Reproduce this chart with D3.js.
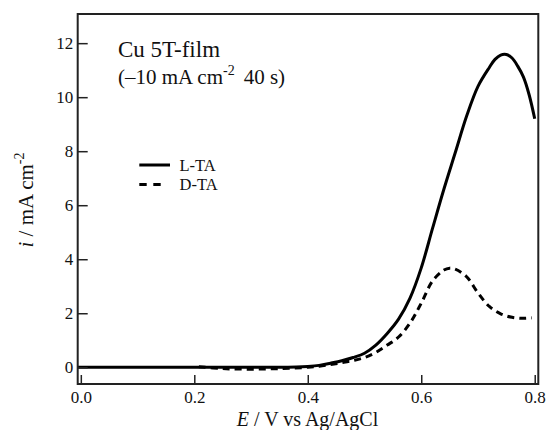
<!DOCTYPE html>
<html>
<head>
<meta charset="utf-8">
<script src="https://cdn.jsdelivr.net/npm/d3@7"></script>
<style>
  body { margin: 0; background: #fff; }
</style>
</head>
<body>
<svg id="chart" width="546" height="430"></svg>
<script>
// potential (V vs Ag/AgCl) and current density (mA cm-2)
const ltaE = [-0.005, 0.1, 0.2, 0.3, 0.38, 0.40, 0.42, 0.44, 0.46, 0.48, 0.50, 0.52, 0.54, 0.56, 0.58, 0.60, 0.62, 0.64, 0.66, 0.68, 0.70, 0.72, 0.73, 0.74, 0.75, 0.76, 0.77, 0.78, 0.79, 0.80]
const ltaI = [0, 0, 0, 0, 0.01, 0.03, 0.07, 0.15, 0.24, 0.36, 0.52, 0.82, 1.25, 1.78, 2.55, 3.68, 5.15, 6.6, 7.95, 9.3, 10.4, 11.1, 11.4, 11.56, 11.58, 11.45, 11.15, 10.75, 10.1, 9.2]

const dtaE = [0.208, 0.25, 0.30, 0.35, 0.40, 0.42, 0.44, 0.46, 0.48, 0.50, 0.52, 0.54, 0.56, 0.58, 0.60, 0.62, 0.64, 0.65, 0.66, 0.68, 0.70, 0.72, 0.74, 0.76, 0.78, 0.795]
const dtaI = [0.02, -0.05, -0.07, -0.05, 0.0, 0.04, 0.10, 0.17, 0.25, 0.36, 0.55, 0.82, 1.12, 1.63, 2.37, 3.2, 3.6, 3.67, 3.63, 3.35, 2.75, 2.25, 1.98, 1.85, 1.81, 1.83]

const xTicks = [0, 0.2, 0.4, 0.6, 0.8]
const yTicks = [0, 2, 4, 6, 8, 10, 12]
const seriesNames = ['L-TA', 'D-TA']

const FONT = '"Liberation Serif", "Times New Roman", Times, serif'

const svg = d3.select('#chart')

// plot frame edges in pixels
const frameL = 77.7, frameR = 538.3, frameT = 14, frameB = 384

const x = d3.scaleLinear().domain([-0.0055, 0.8063]).range([frameL, frameR])
const y = d3.scaleLinear().domain([-0.62, 13.08]).range([frameB, frameT])

const series = [
  { name: seriesNames[0], data: ltaE.map((e, i) => [e, ltaI[i]]), dash: null },
  { name: seriesNames[1], data: dtaE.map((e, i) => [e, dtaI[i]]), dash: '7,5' }
]

const line = d3.line()
  .x(d => x(d[0]))
  .y(d => y(d[1]))
  .curve(d3.curveCatmullRom.alpha(0.5))

svg.selectAll('path.curve')
  .data(series)
  .enter()
  .append('path')
  .attr('class', 'curve')
  .attr('d', d => line(d.data))
  .attr('fill', 'none')
  .attr('stroke', '#000')
  .attr('stroke-width', 3)
  .attr('stroke-dasharray', d => d.dash)

// axes, ticks pointing inward
svg.append('g')
  .attr('transform', `translate(0,${frameB})`)
  .call(d3.axisBottom(x).tickValues(xTicks).tickSize(-9).tickPadding(7).tickFormat(d3.format('.1f')))
  .attr('font-family', FONT)
  .attr('font-size', 17)
  .call(g => g.select('.domain').remove())
  .call(g => g.selectAll('line').attr('stroke', '#222').attr('stroke-width', 1.5))
  .call(g => g.selectAll('text').attr('fill', '#111'))

svg.append('g')
  .attr('transform', `translate(${frameL},0)`)
  .call(d3.axisLeft(y).tickValues(yTicks).tickSize(-10).tickPadding(4.5))
  .attr('font-family', FONT)
  .attr('font-size', 17)
  .call(g => g.select('.domain').remove())
  .call(g => g.selectAll('line').attr('stroke', '#222').attr('stroke-width', 1.5))
  .call(g => g.selectAll('text').attr('fill', '#111'))

svg.append('rect')
  .attr('x', frameL)
  .attr('y', frameT)
  .attr('width', frameR - frameL)
  .attr('height', frameB - frameT)
  .attr('fill', 'none')
  .attr('stroke', '#222')
  .attr('stroke-width', 2)

// axis titles
const xt = svg.append('text')
  .attr('x', 307.5)
  .attr('y', 426)
  .attr('text-anchor', 'middle')
  .attr('font-family', FONT)
  .attr('font-size', 20)
  .attr('fill', '#111')
xt.append('tspan').attr('font-style', 'italic').text('E')
xt.append('tspan').text(' / V vs Ag/AgCl')

const yt = svg.append('text')
  .attr('transform', 'translate(33,200) rotate(-90)')
  .attr('text-anchor', 'middle')
  .attr('font-family', FONT)
  .attr('font-size', 21)
  .attr('fill', '#111')
yt.append('tspan').attr('font-style', 'italic').text('i')
yt.append('tspan').text(' / mA cm')
yt.append('tspan').attr('font-size', 14).attr('dy', -9).text('-2')

// annotation
svg.append('text')
  .attr('x', 118)
  .attr('y', 57)
  .attr('font-family', FONT)
  .attr('font-size', 23)
  .attr('fill', '#111')
  .text('Cu 5T-film')

const note = svg.append('text')
  .attr('x', 118)
  .attr('y', 83.5)
  .attr('font-family', FONT)
  .attr('font-size', 21)
  .attr('fill', '#111')
note.append('tspan').text('(\u201310 mA cm')
note.append('tspan').attr('font-size', 14).attr('dy', -9).text('-2')
note.append('tspan').attr('dy', 9).attr('dx', 9).text('40 s)')

// legend
const legend = svg.append('g')
legend.selectAll('line')
  .data(series)
  .enter()
  .append('line')
  .attr('x1', 139.3)
  .attr('x2', (d, i) => i === 0 ? 170 : 161)
  .attr('y1', (d, i) => 165 + i * 19.5)
  .attr('y2', (d, i) => 165 + i * 19.5)
  .attr('stroke', '#000')
  .attr('stroke-width', 3)
  .attr('stroke-dasharray', (d, i) => i === 0 ? null : '7.4,6.6')

legend.selectAll('text')
  .data(series)
  .enter()
  .append('text')
  .attr('x', 179.5)
  .attr('y', (d, i) => 170.5 + i * 19.5)
  .attr('font-family', FONT)
  .attr('font-size', 16.5)
  .attr('fill', '#111')
  .text(d => d.name)
</script>
</body>
</html>
